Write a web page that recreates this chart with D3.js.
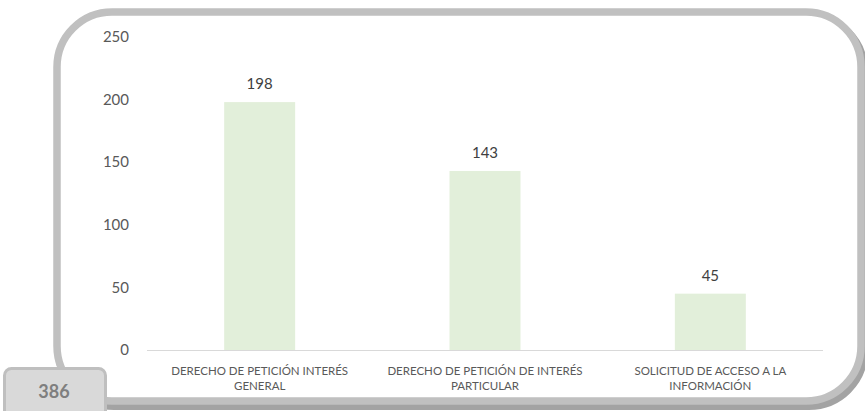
<!DOCTYPE html>
<html>
<head>
<meta charset="utf-8">
<script src="https://cdn.jsdelivr.net/npm/d3@7"></script>
<style>
  body { margin: 0; background: #fff; }
  svg { display: block; }
  text { font-family: Lato, "Open Sans", sans-serif; }
</style>
</head>
<body>
<div id="chart"></div>
<script>
// data
const categories = [
  ['DERECHO DE PETICIÓN INTERÉS', 'GENERAL'],
  ['DERECHO DE PETICIÓN DE INTERÉS', 'PARTICULAR'],
  ['SOLICITUD DE ACCESO A LA', 'INFORMACIÓN']
]
const values = [198, 143, 45]
const yTicks = [0, 50, 100, 150, 200, 250]
const total = 386

const width = 865, height = 411
const plot = { left: 147, right: 823, top: 37, bottom: 350 }

const svg = d3.select('#chart').append('svg')
  .attr('width', width).attr('height', height)

// rounded frame path
function framePath(x0, y0, x1, y1, r) {
  const p = d3.path()
  p.moveTo(x0 + r, y0)
  p.lineTo(x1 - r, y0)
  p.arcTo(x1, y0, x1, y0 + r, r)
  p.lineTo(x1, y1 - r)
  p.arcTo(x1, y1, x1 - r, y1, r)
  p.lineTo(x0 + r, y1)
  p.arcTo(x0, y1, x0, y1 - r, r)
  p.lineTo(x0, y0 + r)
  p.arcTo(x0, y0, x0 + r, y0, r)
  p.closePath()
  return p.toString()
}

// shadow then frame
svg.append('path')
  .attr('d', framePath(59, 16, 864, 406, 55))
  .attr('fill', 'none')
  .attr('stroke', '#a3a3a3')
  .attr('stroke-width', 8)
svg.append('path')
  .attr('d', framePath(57, 12, 861, 401, 55))
  .attr('fill', '#fff')
  .attr('stroke', '#c0c0c0')
  .attr('stroke-width', 7.5)

const x = d3.scaleBand()
  .domain(d3.range(values.length))
  .range([plot.left, plot.right])
  .paddingInner(0.685)
  .paddingOuter(0.3425)

const y = d3.scaleLinear()
  .domain([0, 250])
  .range([plot.bottom, plot.top])

// y tick labels
svg.append('g').selectAll('text')
  .data(yTicks)
  .join('text')
  .attr('x', 129)
  .attr('y', d => y(d))
  .attr('dy', '0.35em')
  .attr('text-anchor', 'end')
  .attr('fill', '#595959')
  .attr('font-size', 15)
  .text(d => d)

// bars
svg.append('g').selectAll('rect')
  .data(values)
  .join('rect')
  .attr('x', (d, i) => x(i))
  .attr('y', d => y(d))
  .attr('width', x.bandwidth())
  .attr('height', d => y(0) - y(d))
  .attr('fill', '#e2efda')

// baseline
svg.append('line')
  .attr('x1', plot.left).attr('x2', plot.right)
  .attr('y1', y(0) + 0.5).attr('y2', y(0) + 0.5)
  .attr('stroke', '#d9d9d9')
  .attr('stroke-width', 1)

// value labels
svg.append('g').selectAll('text')
  .data(values)
  .join('text')
  .attr('x', (d, i) => x(i) + x.bandwidth() / 2)
  .attr('y', d => y(d) - 13)
  .attr('text-anchor', 'middle')
  .attr('fill', '#404040')
  .attr('font-size', 15)
  .text(d => d)

// category labels
const cat = svg.append('g').selectAll('text')
  .data(categories)
  .join('text')
  .attr('text-anchor', 'middle')
  .attr('fill', '#595959')
  .attr('font-size', 11.5)
cat.selectAll('tspan')
  .data((d, i) => d.map(t => ({ t, i })))
  .join('tspan')
  .attr('x', d => x(d.i) + x.bandwidth() / 2)
  .attr('y', (d, j) => 375 + j * 15)
  .text(d => d.t)

// total box
svg.append('rect')
  .attr('x', 4.5).attr('y', 368.5)
  .attr('width', 101).attr('height', 60)
  .attr('rx', 7)
  .attr('fill', '#d9d9d9')
  .attr('stroke', '#bfbfbf')
  .attr('stroke-width', 3)
svg.append('text')
  .attr('x', 54).attr('y', 398)
  .attr('text-anchor', 'middle')
  .attr('fill', '#7f7f7f')
  .attr('font-size', 18)
  .attr('font-weight', 'bold')
  .text(total)
</script>
</body>
</html>
